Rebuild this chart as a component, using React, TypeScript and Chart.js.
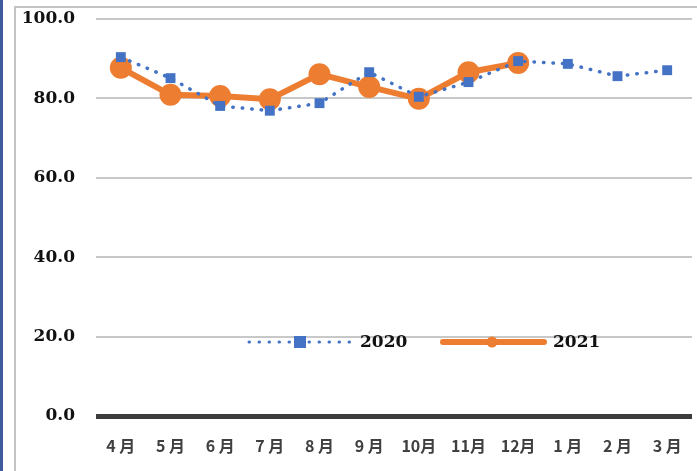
import React, { useEffect, useRef } from "react";
import { Chart, registerables } from "chart.js";

Chart.register(...registerables);

const categories = ["4 月", "5 月", "6 月", "7 月", "8 月", "9 月", "10月", "11月", "12月", "1 月", "2 月", "3 月"];
const series2020 = [90.4, 85.1, 78.1, 76.9, 78.8, 86.6, 80.4, 84.1, 89.4, 88.7, 85.6, 87.1];
const series2021: (number | null)[] = [87.7, 80.9, 80.6, 79.8, 86.1, 82.9, 79.9, 86.6, 88.9, null, null, null];
const yTicks = [0, 20, 40, 60, 80, 100];
const seriesNames = ["2020", "2021"];

const BLUE = "#4472c4";
const ORANGE = "#ed7d31";
const SERIF = "'DejaVu Serif', serif";

const framePlugin = {
  id: "frame",
  beforeDraw(chart: any) {
    const { ctx, width, height } = chart;
    ctx.save();
    ctx.fillStyle = "#ffffff";
    ctx.fillRect(0, 0, width, height);
    ctx.fillStyle = "#3f5b9c";
    ctx.fillRect(0, 0, 3, height);
    ctx.strokeStyle = "#c4c4c4";
    ctx.lineWidth = 2;
    ctx.beginPath();
    ctx.moveTo(15, height);
    ctx.lineTo(15, 7);
    ctx.lineTo(width, 7);
    ctx.stroke();
    ctx.restore();
  },
};

const legendPlugin = {
  id: "inlineLegend",
  afterDatasetsDraw(chart: any) {
    const { ctx } = chart;
    const y = 342;
    ctx.save();
    // 2020
    ctx.strokeStyle = BLUE;
    ctx.lineWidth = 3;
    ctx.lineCap = "round";
    ctx.setLineDash([0.5, 9.5]);
    ctx.beginPath();
    ctx.moveTo(249, y);
    ctx.lineTo(354, y);
    ctx.stroke();
    ctx.setLineDash([]);
    ctx.fillStyle = BLUE;
    ctx.fillRect(294, y - 6, 12, 12);
    // 2021
    ctx.strokeStyle = ORANGE;
    ctx.lineWidth = 6;
    ctx.lineCap = "round";
    ctx.beginPath();
    ctx.moveTo(443, y);
    ctx.lineTo(544, y);
    ctx.stroke();
    ctx.fillStyle = ORANGE;
    ctx.beginPath();
    ctx.arc(492, y, 5.5, 0, Math.PI * 2);
    ctx.fill();
    ctx.fillStyle = "#111";
    ctx.font = `bold 17px ${SERIF}`;
    ctx.textBaseline = "middle";
    ctx.textAlign = "left";
    ctx.fillText(seriesNames[0], 360, y + 1);
    ctx.fillText(seriesNames[1], 553, y + 1);
    ctx.restore();
  },
};

export default function App() {
  const ref = useRef<HTMLCanvasElement>(null);
  useEffect(() => {
    const chart = new Chart(ref.current!, {
      type: "line",
      data: {
        labels: categories,
        datasets: [
          {
            label: seriesNames[0],
            data: series2020,
            borderColor: BLUE,
            backgroundColor: BLUE,
            borderWidth: 3.5,
            borderDash: [0.5, 9],
            borderCapStyle: "round",
            pointStyle: "rect",
            pointRadius: 7,
            pointBorderWidth: 0,
            pointBackgroundColor: BLUE,
            tension: 0,
          },
          {
            label: seriesNames[1],
            data: series2021,
            borderColor: ORANGE,
            backgroundColor: ORANGE,
            borderWidth: 6,
            pointStyle: "circle",
            pointRadius: 11,
            pointBorderWidth: 0,
            pointBackgroundColor: ORANGE,
            tension: 0,
          },
        ],
      },
      options: {
        responsive: false,
        animation: false,
        layout: { autoPadding: false, padding: { left: 0, top: 19, right: 5, bottom: 0 } },
        plugins: { legend: { display: false }, tooltip: { enabled: false } },
        scales: {
          x: {
            offset: true,
            grid: { display: false, drawTicks: false, offset: true },
            border: { display: false },
            ticks: {
              padding: 20,
              color: "#404040",
              font: { family: "'Noto Sans CJK JP', sans-serif", size: 16, weight: "bold" },
              maxRotation: 0,
              autoSkip: false,
            },
            afterFit: (s: any) => {
              s.height = 55;
              s.paddingLeft = 0;
              s.paddingRight = 0;
            },
          },
          y: {
            min: 0,
            max: 100,
            afterBuildTicks: (s: any) => { s.ticks = yTicks.map((v) => ({ value: v })); },
            grid: {
              drawTicks: false,
              color: (c: any) => (c.tick && c.tick.value === 0 ? "#3c3c3c" : "#c8c8c8"),
              lineWidth: (c: any) => (c.tick && c.tick.value === 0 ? 5 : 2),
            },
            border: { display: false },
            ticks: {
              padding: 21,
              color: "#111",
              font: { family: SERIF, size: 17, weight: "bold" },
              callback: (v: any) => Number(v).toFixed(1),
            },
            afterFit: (s: any) => {
              s.width = 96;
              s.paddingTop = 0;
              s.paddingBottom = 0;
            },
          },
        },
      },
      plugins: [framePlugin, legendPlugin],
    } as any);
    return () => chart.destroy();
  }, []);
  return (
    <div style={{ position: "fixed", left: 0, top: 0, width: 697, height: 471, background: "#fff" }}>
      <canvas ref={ref} width={697} height={471} style={{ width: 697, height: 471, display: "block" }} />
    </div>
  );
}
